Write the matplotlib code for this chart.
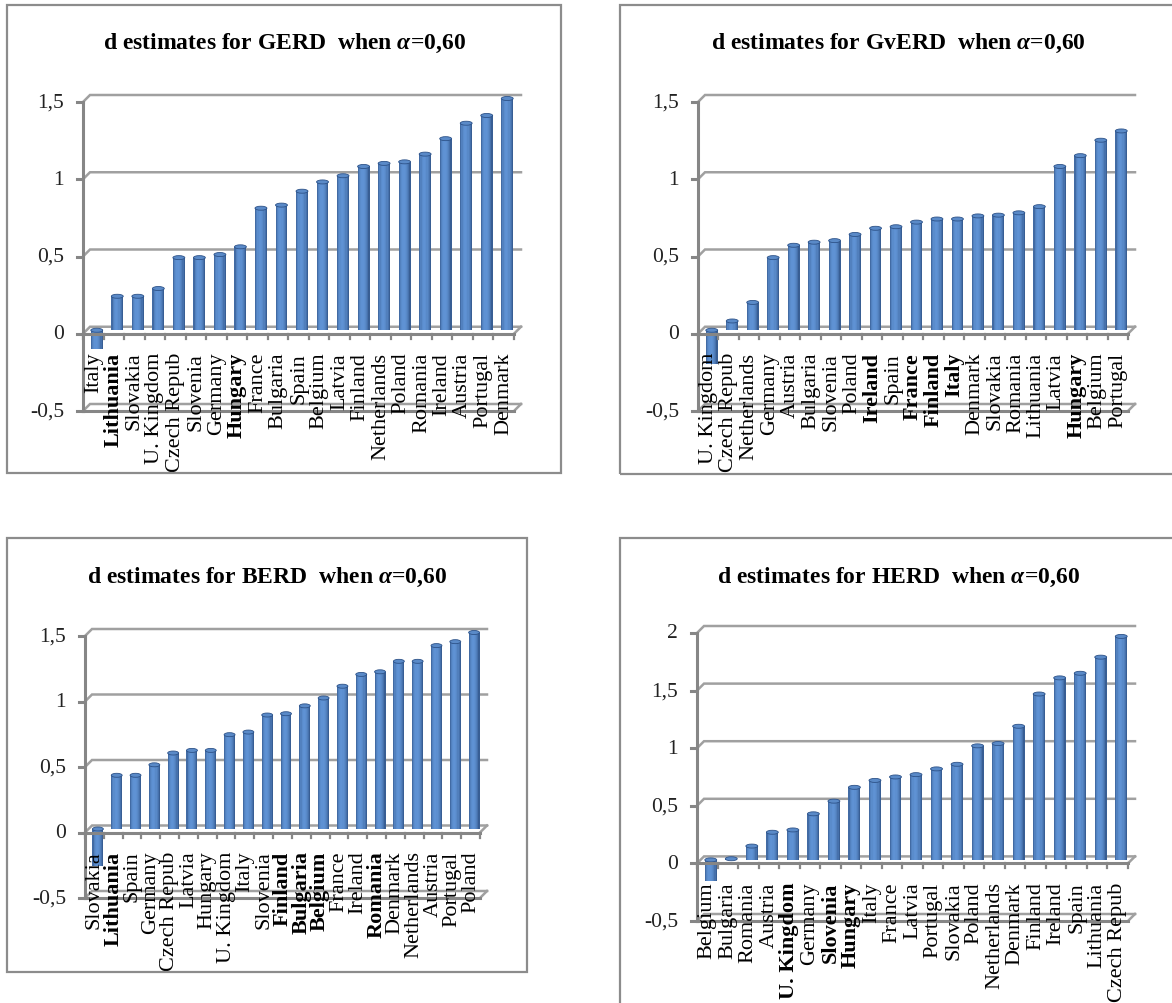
import numpy as np
import matplotlib
matplotlib.use("Agg")
import matplotlib.pyplot as plt
from matplotlib.patches import Rectangle, Ellipse
from matplotlib.colors import to_rgb

plt.rcParams['font.family'] = ['Liberation Serif', 'DejaVu Serif']
plt.rcParams['mathtext.fontset'] = 'custom'
plt.rcParams['mathtext.rm'] = 'Liberation Serif:bold'
plt.rcParams['mathtext.it'] = 'Liberation Serif:italic:bold'
plt.rcParams['mathtext.bf'] = 'Liberation Serif:bold'

W, H = 1172, 1004

# d estimates, alpha = 0.60
gerd_countries = ['Italy', 'Lithuania', 'Slovakia', 'U. Kingdom', 'Czech Repub', 'Slovenia',
                  'Germany', 'Hungary', 'France', 'Bulgaria', 'Spain', 'Belgium', 'Latvia',
                  'Finland', 'Netherlands', 'Poland', 'Romania', 'Ireland', 'Austria',
                  'Portugal', 'Denmark']
gerd_values = [-0.12, 0.22, 0.22, 0.27, 0.47, 0.47, 0.49, 0.54, 0.79, 0.81, 0.90, 0.96, 1.00,
               1.06, 1.08, 1.09, 1.14, 1.24, 1.34, 1.39, 1.50]
gerd_bold = ['Lithuania', 'Hungary']

gverd_countries = ['U. Kingdom', 'Czech Repub', 'Netherlands', 'Germany', 'Austria', 'Bulgaria',
                   'Slovenia', 'Poland', 'Ireland', 'Spain', 'France', 'Finland', 'Italy',
                   'Denmark', 'Slovakia', 'Romania', 'Lithuania', 'Latvia', 'Hungary',
                   'Belgium', 'Portugal']
gverd_values = [-0.22, 0.06, 0.18, 0.47, 0.55, 0.57, 0.58, 0.62, 0.66, 0.67, 0.70, 0.72, 0.72,
                0.74, 0.745, 0.76, 0.80, 1.06, 1.13, 1.23, 1.29]
gverd_bold = ['Ireland', 'France', 'Finland', 'Italy', 'Hungary']

berd_countries = ['Slovakia', 'Lithuania', 'Spain', 'Germany', 'Czech Repub', 'Latvia',
                  'Hungary', 'U. Kingdom', 'Italy', 'Slovenia', 'Finland', 'Bulgaria',
                  'Belgium', 'France', 'Ireland', 'Romania', 'Denmark', 'Netherlands',
                  'Austria', 'Portugal', 'Poland']
berd_values = [-0.28, 0.41, 0.41, 0.49, 0.58, 0.60, 0.60, 0.72, 0.74, 0.87, 0.88, 0.94, 1.00,
               1.09, 1.18, 1.20, 1.28, 1.28, 1.40, 1.43, 1.50]
berd_bold = ['Lithuania', 'Finland', 'Bulgaria', 'Belgium', 'Romania']

herd_countries = ['Belgium', 'Bulgaria', 'Romania', 'Austria', 'U. Kingdom', 'Germany',
                  'Slovenia', 'Hungary', 'Italy', 'France', 'Latvia', 'Portugal', 'Slovakia',
                  'Poland', 'Netherlands', 'Denmark', 'Finland', 'Ireland', 'Spain',
                  'Lithuania', 'Czech Repub']
herd_values = [-0.18, 0.01, 0.12, 0.24, 0.26, 0.40, 0.51, 0.63, 0.69, 0.72, 0.74, 0.79, 0.83,
               0.99, 1.01, 1.16, 1.44, 1.58, 1.62, 1.76, 1.94]
herd_bold = ['U. Kingdom', 'Hungary', 'Slovenia']

ticks_15 = [-0.5, 0, 0.5, 1, 1.5]
ticklabels_15 = ['-0,5', '0', '0,5', '1', '1,5']
ticks_2 = [-0.5, 0, 0.5, 1, 1.5, 2]
ticklabels_2 = ['-0,5', '0', '0,5', '1', '1,5', '2']

# pixel layout: frame box, plot area (left, right, top, bottom), title centre
panels = [
    dict(name='GERD', countries=gerd_countries, values=gerd_values, bold=gerd_bold,
         ticks=ticks_15, labels=ticklabels_15, box=(7, 6, 561, 474),
         area=(83, 514, 103, 412), title_xy=(284, 43)),
    dict(name='GvERD', countries=gverd_countries, values=gverd_values, bold=gverd_bold,
         ticks=ticks_15, labels=ticklabels_15, box=(620, 6, 1200, 475),
         area=(698, 1128, 103, 412), title_xy=(898, 43)),
    dict(name='BERD', countries=berd_countries, values=berd_values, bold=berd_bold,
         ticks=ticks_15, labels=ticklabels_15, box=(7, 539, 527, 973),
         area=(85, 480, 637, 899), title_xy=(267, 577)),
    dict(name='HERD', countries=herd_countries, values=herd_values, bold=herd_bold,
         ticks=ticks_2, labels=ticklabels_2, box=(620, 539, 1200, 1030),
         area=(697, 1128, 634, 922), title_xy=(898, 577)),
]

dark = np.array(to_rgb('#28497a'))
light = np.array(to_rgb('#5f92d4'))
cap_col = '#5a8ac8'
nstrip = 10
tt = (np.arange(nstrip) + 0.5) / nstrip
shade = np.sin(np.pi * tt ** 0.8) ** 0.6
strip_cols = [tuple(dark + (light - dark) * s) for s in shade]

back_col = '#a0a0a0'
front_col = '#868686'

fig = plt.figure(figsize=(W / 100, H / 100), dpi=100)

for p in panels:
    # frame around each chart
    x0, y0, x1, y1 = p['box']
    fig.add_artist(Rectangle((x0 / W, 1 - y1 / H), (x1 - x0) / W, (y1 - y0) / H,
                             transform=fig.transFigure, fill=False,
                             edgecolor='#8c8c8c', lw=1.6))
    fig.text(p['title_xy'][0] / W, 1 - p['title_xy'][1] / H,
             'd estimates for %s  when $\\alpha$=0,60' % p['name'],
             ha='center', va='center', fontsize=17, fontweight='bold')

    L, R, T, B = p['area']
    ax = fig.add_axes([L / W, 1 - B / H, (R - L) / W, (B - T) / H])
    n = len(p['countries'])
    ymin, ymax = p['ticks'][0], p['ticks'][-1]
    xmin, xmax = -0.5, n - 0.5
    ax.set_xlim(xmin, xmax)
    ax.set_ylim(ymin, ymax)
    ax.axis('off')

    px = n / (R - L)
    py = (ymax - ymin) / (B - T)
    dx, dy = 7 * px, 7 * py

    # back wall gridlines with the depth connectors
    for v in p['ticks']:
        ax.plot([xmin, xmin + dx, xmax + dx], [v, v + dy, v + dy], color=back_col,
                lw=1.8, clip_on=False, zorder=1, solid_joinstyle='miter')
    for v in (ymin, 0):
        ax.plot([xmax, xmax + dx], [v, v + dy], color=back_col, lw=1.8,
                clip_on=False, zorder=1)

    # cylinder columns, strips painted left to right over each other
    w = 0.58
    cap_h = 4 * py
    for i, v in enumerate(p['values']):
        xc = i + dx / 2
        lo, hi = sorted([dy / 2, v + dy / 2])
        edges = np.linspace(xc - w / 2, xc + w / 2, nstrip + 1)
        for k in range(nstrip):
            ax.add_patch(Rectangle((edges[k], lo), edges[-1] - edges[k], hi - lo,
                                   facecolor=strip_cols[k], lw=0, clip_on=False, zorder=3))
        ax.add_patch(Ellipse((xc, hi), w, cap_h, facecolor=cap_col, edgecolor='#2d5288',
                             lw=0.6, clip_on=False, zorder=3.5))
        ax.text(i, -18 * py, p['countries'][i], rotation=90, ha='center', va='top',
                fontsize=16, color='black', zorder=6,
                fontweight='bold' if p['countries'][i] in p['bold'] else 'normal')

    # front axes
    ax.plot([xmin, xmin], [ymin, ymax], color=front_col, lw=2.2, clip_on=False, zorder=4)
    for v in p['ticks']:
        ax.plot([xmin - 6 * px, xmin], [v, v], color=front_col, lw=2.2, clip_on=False, zorder=4)
    for v in (ymin, 0):
        ax.plot([xmin, xmax], [v, v], color=front_col, lw=2.2, clip_on=False, zorder=4)
    for k in range(n + 1):
        ax.plot([xmin + k, xmin + k], [0, -5 * py], color=front_col, lw=1.6,
                clip_on=False, zorder=4)

    for v, lab in zip(p['ticks'], p['labels']):
        ax.text(xmin - 19 * px, v, lab, ha='right', va='center', fontsize=15.5,
                color='#222222')

fig.savefig('out.png', dpi=100)
